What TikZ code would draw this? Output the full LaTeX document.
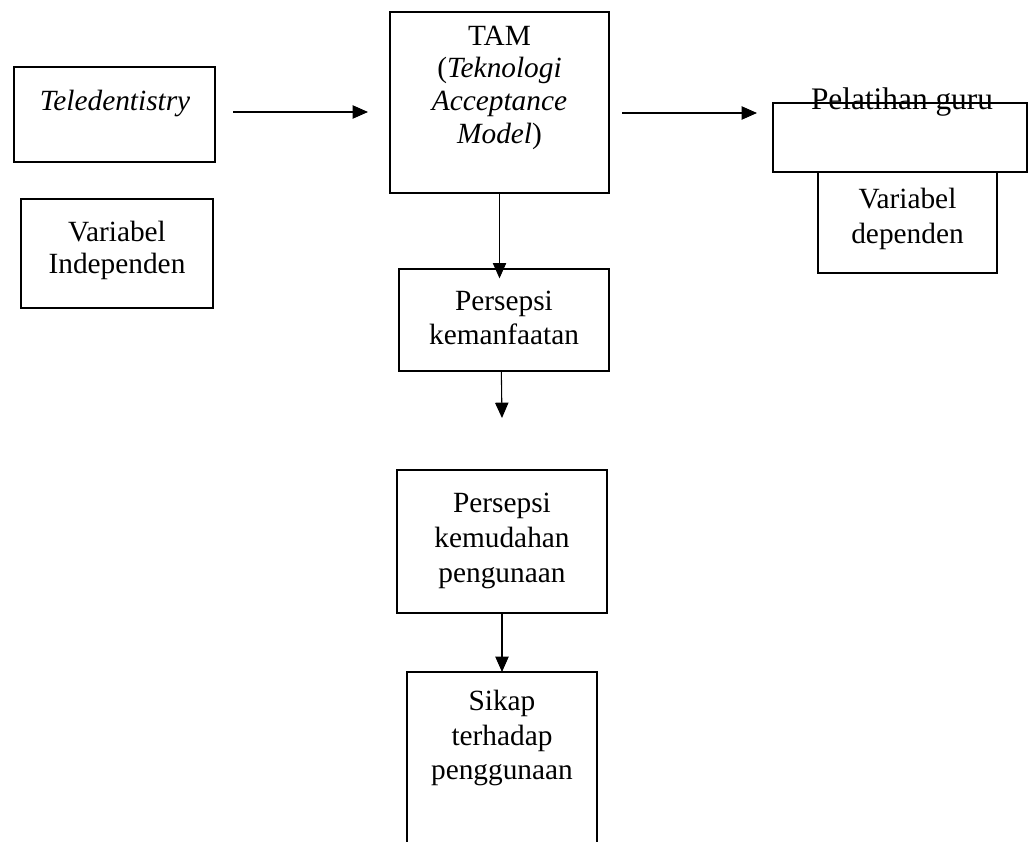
\documentclass[tikz,border=0pt]{standalone}
\usepackage{fontspec}
\setmainfont{Liberation Serif}
\usetikzlibrary{arrows.meta}
\begin{document}
\begin{tikzpicture}[x=0.75pt,y=-0.75pt,
  box/.style={draw,line width=1.5pt,inner sep=0pt,outer sep=0pt},
  lbl/.style={font=\fontsize{22}{26}\selectfont,align=center,inner sep=0pt},
  tight/.style={font=\fontsize{22}{24}\selectfont},
  arr/.style={line width=0.8pt,-{Triangle[length=11.5pt,width=10pt]}}]
\useasboundingbox (0,0) rectangle (1033,842);
\clip (0,0) rectangle (1033,842);
% boxes
\node[box,minimum width=150.75pt,minimum height=71.25pt] (tele) at (114.5,114.5) {};
\node[box,minimum width=144pt,minimum height=81.75pt] (indep) at (117,253.5) {};
\node[box,minimum width=164.25pt,minimum height=135.75pt] (tam) at (499.5,102.5) {};
\node[box,minimum width=190.5pt,minimum height=51.75pt] (pel) at (900,137.5) {};
\node[box,minimum width=134.25pt,minimum height=75.75pt] (dep) at (907.5,222.5) {};
\node[box,minimum width=157.5pt,minimum height=76.5pt] (pk) at (504,320) {};
\node[box,minimum width=157.5pt,minimum height=107.25pt] (pkp) at (502,541.5) {};
\node[box,minimum width=142.5pt,minimum height=171pt] (sikap) at (502,786) {};
% texts
\node[lbl] (teletxt) at (115,103) {\textit{Teledentistry}};
\node[lbl,tight] (indeptxt) at (117,250) {Variabel\\Independen};
\node[lbl,font=\fontsize{22}{24.5}\selectfont] (tamtxt) at (499.5,87.5) {TAM\\(\textit{Teknologi}\\\textit{Acceptance}\\\textit{Model})};
\node[lbl,font=\fontsize{23.5}{26}\selectfont] (peltxt) at (902,102) {Pelatihan guru};
\node[lbl] (deptxt) at (907.5,219) {Variabel\\dependen};
\node[lbl] (pktxt) at (504,318) {Persepsi\\kemanfaatan};
\node[lbl] (pkptxt) at (502,541) {Persepsi\\kemudahan\\pengunaan};
\node[lbl] (sikaptxt) at (502,738) {Sikap\\terhadap\\penggunaan};
% connectors
\coordinate (e4) at (502,418);
\draw[arr] ([shift={(18,-2.5)}]tele.east) -- ([shift={(-22,9.5)}]tam.west);
\draw[arr] ([shift={(13,10.5)}]tam.east) -- ([shift={(-16,-24.5)}]pel.west);
\draw[arr] (tam.south) -- ([yshift=-7]tam.south |- pk.north);
\draw[arr] ([xshift=-2]pk.south) -- (e4);
\draw[arr] (pkp.south) -- (sikap.north);
\end{tikzpicture}
\end{document}
